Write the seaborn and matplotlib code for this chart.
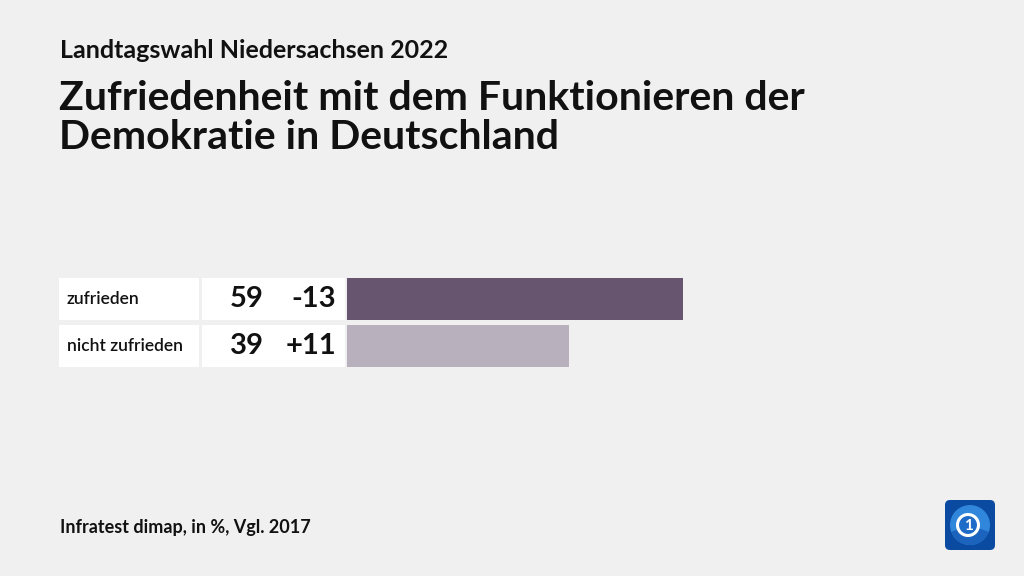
import matplotlib
matplotlib.use("Agg")
import matplotlib.pyplot as plt
import seaborn as sns
import pandas as pd
from matplotlib.patches import Rectangle, FancyBboxPatch, Circle, Wedge
from matplotlib.transforms import blended_transform_factory

categories = ["zufrieden", "nicht zufrieden"]
values = [59, 39]
changes = ["-13", "+11"]
colors = ["#67556f", "#b8b0bd"]

sns.set_theme(style="white")
plt.rcParams["font.family"] = ["Lato", "DejaVu Sans"]

W, H = 1024, 576
fig = plt.figure(figsize=(W / 100, H / 100), dpi=100)
fig.patch.set_facecolor("#f0f0f0")

def fx(px):
    return px / W

def fy(py):
    return 1 - py / H

# axes: bars start at x=347, 5.69 px per unit
ax_left, ax_right = 347, 347 + 5.69 * 100
ax_top, ax_bot = 275.5, 369.5
ax = fig.add_axes([fx(ax_left), fy(ax_bot), fx(ax_right - ax_left), (ax_bot - ax_top) / H])
ax.set_facecolor("none")

df = pd.DataFrame({"cat": categories, "val": values})
sns.barplot(data=df, x="val", y="cat", hue="cat", palette=colors, orient="h",
            width=0.894, ax=ax, legend=False, saturation=1, linewidth=0, edgecolor="none")
ax.set_xlim(0, 100)
ax.set_ylim(1.5, -0.5)
ax.axis("off")

tr = blended_transform_factory(fig.transFigure, ax.transData)
for i, (cat, v, ch) in enumerate(zip(categories, values, changes)):
    h = 0.894
    fig.patches.append(Rectangle((fx(59), i - h / 2), fx(199) - fx(59), h,
                                 transform=tr, facecolor="white", edgecolor="none", zorder=0))
    fig.patches.append(Rectangle((fx(202), i - h / 2), fx(345) - fx(202), h,
                                 transform=tr, facecolor="white", edgecolor="none", zorder=0))
    fig.text(fx(67), i, cat, transform=tr, ha="left", va="center",
             fontsize=12.5, fontweight="semibold", color="#111111")
    fig.text(fx(264), i, str(v), transform=tr, ha="right", va="center",
             fontsize=21, fontweight="bold", color="#111111")
    fig.text(fx(336), i, ch, transform=tr, ha="right", va="center",
             fontsize=21, fontweight="bold", color="#111111")

fig.text(fx(60), fy(51), "Landtagswahl Niedersachsen 2022", ha="left", va="center",
         fontsize=18, fontweight="bold", color="#111111")
fig.text(fx(59), fy(118), "Zufriedenheit mit dem Funktionieren der\nDemokratie in Deutschland",
         ha="left", va="center", fontsize=29.5, fontweight="bold", color="#111111",
         linespacing=1.08)
fig.text(fx(60), fy(527), "Infratest dimap, in %, Vgl. 2017", ha="left", va="center",
         fontsize=13, fontweight="bold", color="#111111")

# logo
lx, ly, ls = 945, 500, 50
ax_logo = fig.add_axes([fx(lx), fy(ly + ls), fx(ls), ls / H])
ax_logo.set_xlim(0, 1)
ax_logo.set_ylim(0, 1)
ax_logo.axis("off")
ax_logo.add_patch(FancyBboxPatch((0, 0), 1, 1, boxstyle="round,pad=0,rounding_size=0.1",
                                 facecolor="#0a4aa0", edgecolor="none"))
ax_logo.add_patch(Circle((0.5, 0.5), 0.4, facecolor="#2f86db", edgecolor="none"))
ax_logo.add_patch(Wedge((0.5, 0.5), 0.4, 200, 340, facecolor="#1c63bd", edgecolor="none"))
ax_logo.add_patch(Circle((0.46, 0.5), 0.21, facecolor="#1f6cc8", edgecolor="white", linewidth=2.2))
ax_logo.text(0.47, 0.48, "1", ha="center", va="center", color="white",
             fontsize=11, fontweight="bold")

fig.savefig("out.png", dpi=100, facecolor=fig.get_facecolor())
